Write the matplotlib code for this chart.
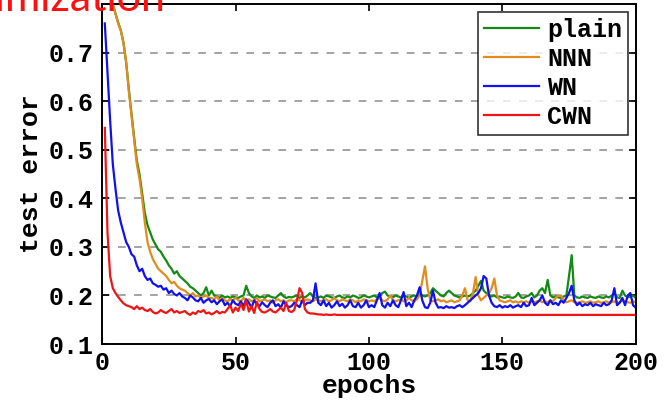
import numpy as np
import matplotlib
matplotlib.use('Agg')
import matplotlib.pyplot as plt

epochs = np.arange(1, 201)

plain = [0.9, 0.87, 0.835, 0.8, 0.78, 0.762, 0.746, 0.72, 0.68, 0.625,
         0.575, 0.525, 0.478, 0.45, 0.41, 0.37, 0.345, 0.33, 0.315, 0.305,
         0.295, 0.29, 0.28, 0.272, 0.262, 0.255, 0.245, 0.25, 0.24, 0.235,
         0.23, 0.225, 0.218, 0.215, 0.21, 0.205, 0.2, 0.205, 0.217, 0.2,
         0.21, 0.2, 0.198, 0.195, 0.2, 0.196, 0.198, 0.195, 0.198, 0.196,
         0.195, 0.198, 0.2, 0.22, 0.205, 0.198, 0.195, 0.2, 0.196, 0.198,
         0.195, 0.2, 0.198, 0.196, 0.195, 0.2, 0.205, 0.198, 0.195, 0.197,
         0.196, 0.198, 0.2, 0.195, 0.198, 0.196, 0.2, 0.205, 0.198, 0.195,
         0.196, 0.198, 0.195, 0.2, 0.198, 0.196, 0.195, 0.198, 0.2, 0.196,
         0.195, 0.198, 0.196, 0.2, 0.198, 0.195, 0.196, 0.2, 0.198, 0.196,
         0.198, 0.2, 0.196, 0.198, 0.205, 0.208, 0.2, 0.198, 0.196, 0.2,
         0.198, 0.196, 0.2, 0.198, 0.195, 0.198, 0.2, 0.198, 0.205, 0.2,
         0.198, 0.2, 0.205, 0.215, 0.21, 0.205, 0.2, 0.198, 0.205, 0.21,
         0.205, 0.2, 0.198, 0.196, 0.198, 0.2, 0.198, 0.2, 0.205, 0.21,
         0.22, 0.23, 0.21, 0.205, 0.2, 0.198, 0.2, 0.196, 0.198, 0.196,
         0.195, 0.198, 0.196, 0.195, 0.198, 0.205, 0.196, 0.195, 0.198, 0.2,
         0.205, 0.196, 0.2, 0.21, 0.215, 0.205, 0.232, 0.2, 0.196, 0.198,
         0.196, 0.195, 0.198, 0.2, 0.24, 0.283, 0.2, 0.196, 0.195, 0.198,
         0.196, 0.195, 0.198, 0.196, 0.195, 0.198, 0.196, 0.195, 0.198, 0.196,
         0.2, 0.205, 0.196, 0.195, 0.21, 0.2, 0.196, 0.198, 0.2, 0.195]

nnn = [0.9, 0.86, 0.83, 0.8, 0.78, 0.76, 0.745, 0.72, 0.68, 0.62,
       0.57, 0.52, 0.47, 0.44, 0.4, 0.35, 0.31, 0.29, 0.275, 0.265,
       0.255, 0.25, 0.245, 0.24, 0.232, 0.225, 0.228, 0.22, 0.215, 0.212,
       0.21, 0.205, 0.2, 0.205, 0.198, 0.2, 0.195, 0.198, 0.2, 0.195,
       0.195, 0.192, 0.198, 0.19, 0.195, 0.19, 0.188, 0.192, 0.19, 0.195,
       0.19, 0.188, 0.195, 0.19, 0.192, 0.188, 0.19, 0.195, 0.188, 0.19,
       0.192, 0.188, 0.19, 0.185, 0.19, 0.192, 0.188, 0.19, 0.186, 0.19,
       0.19, 0.188, 0.192, 0.19, 0.188, 0.19, 0.192, 0.19, 0.188, 0.192,
       0.19, 0.188, 0.19, 0.192, 0.188, 0.19, 0.195, 0.19, 0.188, 0.192,
       0.19, 0.188, 0.192, 0.19, 0.186, 0.19, 0.188, 0.192, 0.19, 0.188,
       0.19, 0.188, 0.192, 0.195, 0.19, 0.188, 0.192, 0.2, 0.19, 0.188,
       0.19, 0.192, 0.188, 0.19, 0.195, 0.19, 0.188, 0.192, 0.2, 0.23,
       0.26, 0.215, 0.19, 0.188, 0.19, 0.192, 0.188, 0.19, 0.186, 0.188,
       0.19, 0.186, 0.188, 0.19, 0.2, 0.215, 0.19, 0.188, 0.205, 0.238,
       0.2, 0.19, 0.195, 0.2, 0.205, 0.215, 0.235, 0.2, 0.19, 0.188,
       0.186, 0.188, 0.19, 0.186, 0.188, 0.185, 0.188, 0.186, 0.188, 0.185,
       0.188, 0.186, 0.188, 0.19, 0.186, 0.188, 0.186, 0.19, 0.188, 0.195,
       0.2, 0.2, 0.19, 0.186, 0.188, 0.19, 0.186, 0.185, 0.186, 0.188,
       0.185, 0.186, 0.188, 0.185, 0.186, 0.188, 0.185, 0.186, 0.188, 0.185,
       0.186, 0.188, 0.185, 0.186, 0.19, 0.188, 0.186, 0.185, 0.188, 0.186]

wn = [0.76, 0.66, 0.56, 0.47, 0.42, 0.375, 0.35, 0.33, 0.31, 0.3,
      0.285, 0.28, 0.262, 0.25, 0.255, 0.24, 0.232, 0.235, 0.225, 0.222,
      0.218, 0.22, 0.212, 0.215, 0.205, 0.21, 0.203, 0.2, 0.205, 0.198,
      0.195, 0.19, 0.2, 0.196, 0.19, 0.188, 0.195, 0.185, 0.19, 0.193,
      0.186, 0.19, 0.182, 0.188, 0.192, 0.18, 0.185, 0.178, 0.19, 0.183,
      0.18, 0.188, 0.178, 0.192, 0.185, 0.175, 0.19, 0.182, 0.178, 0.186,
      0.18, 0.176, 0.185, 0.19, 0.178, 0.182, 0.175, 0.188, 0.18, 0.176,
      0.178, 0.185, 0.18, 0.176, 0.19, 0.18, 0.185, 0.185, 0.19, 0.225,
      0.185, 0.18, 0.19, 0.178, 0.185, 0.175, 0.18, 0.188, 0.178, 0.183,
      0.175, 0.18, 0.19, 0.178, 0.176, 0.185, 0.175, 0.18, 0.19, 0.176,
      0.18, 0.176, 0.19, 0.205, 0.18, 0.175, 0.185, 0.178, 0.19, 0.18,
      0.176, 0.19, 0.207, 0.178, 0.185, 0.176, 0.19, 0.2, 0.217, 0.19,
      0.176, 0.174, 0.185, 0.21, 0.185, 0.175, 0.176, 0.174, 0.178, 0.175,
      0.176, 0.174, 0.178, 0.18, 0.176, 0.18, 0.185, 0.19, 0.195, 0.2,
      0.205, 0.215, 0.24, 0.235, 0.2, 0.185, 0.178, 0.176, 0.18, 0.175,
      0.178, 0.176, 0.18, 0.175, 0.178, 0.18, 0.176, 0.185, 0.178, 0.18,
      0.195, 0.18, 0.185, 0.19, 0.2, 0.185, 0.18, 0.19, 0.182, 0.185,
      0.18, 0.19, 0.185, 0.195, 0.205, 0.22, 0.19, 0.18, 0.185, 0.178,
      0.182, 0.18, 0.185, 0.178, 0.182, 0.18, 0.178, 0.185, 0.18, 0.182,
      0.19, 0.215, 0.18, 0.185, 0.195, 0.18, 0.2, 0.205, 0.18, 0.175]

cwn = [0.545, 0.33, 0.24, 0.215, 0.205, 0.197, 0.19, 0.184, 0.18, 0.178,
       0.176, 0.172, 0.178, 0.172, 0.175, 0.17, 0.168, 0.172, 0.166, 0.163,
       0.165, 0.17, 0.166, 0.164, 0.168, 0.172, 0.165, 0.168, 0.164, 0.166,
       0.168, 0.163, 0.16, 0.165, 0.162, 0.168, 0.166, 0.17, 0.163, 0.165,
       0.161, 0.164, 0.168, 0.163, 0.166, 0.165, 0.172, 0.18, 0.165, 0.175,
       0.168, 0.183, 0.17, 0.19, 0.167, 0.178, 0.164, 0.187, 0.172, 0.166,
       0.165, 0.168, 0.172, 0.167, 0.165, 0.17, 0.175, 0.168, 0.185, 0.168,
       0.166, 0.17, 0.19, 0.215, 0.205, 0.172, 0.165, 0.163, 0.163, 0.162,
       0.161, 0.161, 0.16, 0.161, 0.16, 0.16, 0.161, 0.16, 0.16, 0.16,
       0.16, 0.16, 0.16, 0.16, 0.16, 0.16, 0.16, 0.16, 0.16, 0.16,
       0.16, 0.16, 0.16, 0.16, 0.16, 0.16, 0.16, 0.16, 0.16, 0.16,
       0.16, 0.16, 0.16, 0.16, 0.16, 0.16, 0.16, 0.16, 0.16, 0.16,
       0.16, 0.16, 0.16, 0.16, 0.16, 0.16, 0.16, 0.16, 0.16, 0.16,
       0.16, 0.16, 0.16, 0.16, 0.16, 0.16, 0.16, 0.16, 0.16, 0.16,
       0.16, 0.16, 0.16, 0.16, 0.16, 0.16, 0.16, 0.16, 0.16, 0.16,
       0.16, 0.16, 0.16, 0.16, 0.16, 0.16, 0.16, 0.16, 0.16, 0.16,
       0.16, 0.16, 0.16, 0.16, 0.16, 0.16, 0.16, 0.16, 0.16, 0.16,
       0.16, 0.16, 0.16, 0.16, 0.16, 0.16, 0.16, 0.16, 0.16, 0.16,
       0.16, 0.16, 0.16, 0.16, 0.16, 0.16, 0.16, 0.16, 0.16, 0.16,
       0.16, 0.16, 0.16, 0.16, 0.16, 0.16, 0.16, 0.16, 0.16, 0.16]

names = ['plain', 'NNN', 'WN', 'CWN']
colors = ['#148a14', '#e08c1e', '#1010f0', '#f01414']

plt.rcParams['font.family'] = ['Liberation Mono', 'DejaVu Sans Mono']
plt.rcParams['font.weight'] = 'bold'

fig = plt.figure(figsize=(6.72, 4.01), dpi=100)
ax = fig.add_axes([0.152, 0.142, 0.794, 0.848])

for y, name, c in zip([plain, nnn, wn, cwn], names, colors):
    ax.plot(epochs, y, color=c, lw=1.6, label=name)

ax.set_xlim(0, 200)
ax.set_ylim(0.1, 0.8)
ax.set_xticks([0, 50, 100, 150, 200])
ax.set_yticks([0.1, 0.2, 0.3, 0.4, 0.5, 0.6, 0.7])
ax.set_yticklabels(['0.1', '0.2', '0.3', '0.4', '0.5', '0.6', '0.7'])
ax.tick_params(direction='in', top=True, right=True, length=5, width=1.2,
               labelsize=18, pad=6)
ax.tick_params(axis='x', pad=5)
for s in ax.spines.values():
    s.set_linewidth(1.4)

for yv in [0.2, 0.3, 0.4, 0.5, 0.6, 0.7]:
    ax.axhline(yv, color='#8a8a8a', lw=1.1, ls=(0, (5, 5.5)), zorder=0)

ax.set_xlabel('epochs', fontsize=19, fontweight='bold', labelpad=-1)
ax.set_ylabel('test error', fontsize=19, fontweight='bold', labelpad=4)

leg = ax.legend(loc='upper right', fontsize=18, frameon=True, fancybox=False,
                handlelength=2.2, handletextpad=0.3, labelspacing=0.2,
                borderpad=0.25, borderaxespad=0.3)
leg.get_frame().set_edgecolor('black')
leg.get_frame().set_linewidth(1.2)

fig.text(165 / 672, 1 - 11 / 401, 'Optimization', color='#ff1010', fontsize=31,
         family='Lato', weight='normal', ha='right', va='baseline')

fig.savefig('out.png', dpi=100)
